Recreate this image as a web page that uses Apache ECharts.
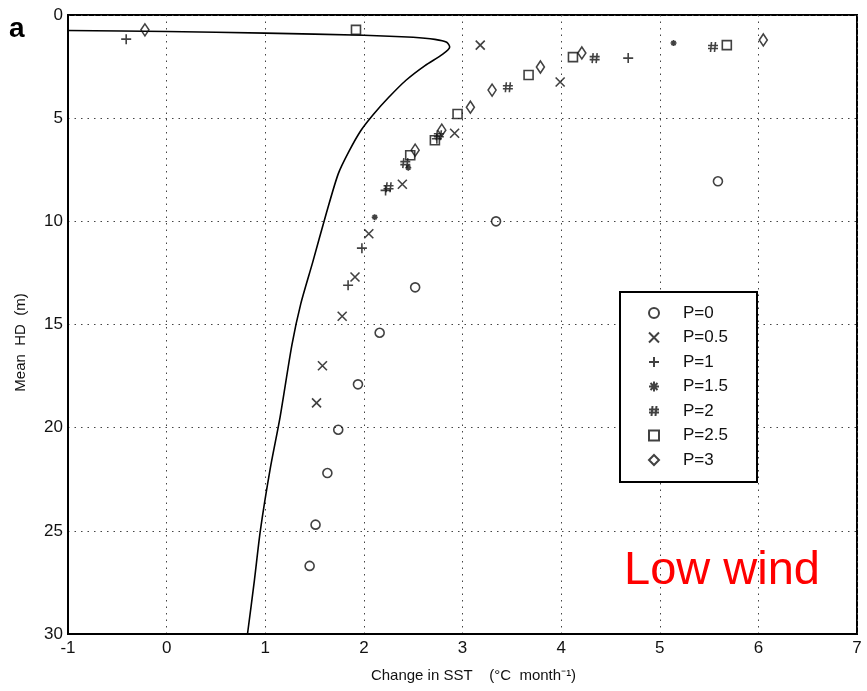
<!DOCTYPE html>
<html>
<head>
<meta charset="utf-8">
<script src="https://cdn.jsdelivr.net/npm/echarts@6/dist/echarts.min.js"></script>
<style>
html,body{margin:0;padding:0;background:#fff;}
#chart{width:867px;height:691px;}
</style>
</head>
<body>
<div id="chart"></div>
<script>
// Reference curve
const curveX = [-1, 0, 1, 2, 2.5, 2.72, 2.84, 2.87, 2.8, 2.62, 2.43, 2.25, 2.1, 1.97, 1.85, 1.74, 1.62, 1.48, 1.36, 1.27, 1.15, 1.05, 0.95, 0.89, 0.82];
const curveY = [0.75, 0.8, 0.88, 0.98, 1.08, 1.18, 1.32, 1.55, 1.9, 2.45, 3.15, 4.0, 4.8, 5.6, 6.6, 7.7, 9.6, 12, 14, 16, 19.5, 22, 25, 27.4, 30];

// Scatter series (x = change in SST, y = mean HD)
const p0X = [5.59, 3.34, 2.52, 2.16, 1.94, 1.74, 1.63, 1.51, 1.45];
const p0Y = [8.06, 10.0, 13.2, 15.4, 17.9, 20.1, 22.2, 24.7, 26.7];
const p05X = [3.18, 3.99, 2.92, 2.39, 2.05, 1.91, 1.78, 1.58, 1.52];
const p05Y = [1.46, 3.25, 5.73, 8.2, 10.6, 12.7, 14.6, 17.0, 18.8];
const p1X = [-0.41, 4.68, 2.74, 2.22, 1.98, 1.84];
const p1Y = [1.17, 2.09, 6.0, 8.5, 11.3, 13.1];
const p15X = [5.14, 2.45, 2.11];
const p15Y = [1.36, 7.4, 9.8];
const p2X = [5.54, 4.34, 3.46, 2.76, 2.42, 2.25];
const p2Y = [1.55, 2.09, 3.5, 5.83, 7.18, 8.35];
const p25X = [1.92, 5.68, 4.12, 3.67, 2.95, 2.72, 2.47];
const p25Y = [0.72, 1.46, 2.04, 2.91, 4.8, 6.07, 6.8];
const p3X = [-0.22, 6.05, 4.21, 3.79, 3.30, 3.08, 2.79, 2.52];
const p3Y = [0.72, 1.21, 1.84, 2.52, 3.64, 4.47, 5.58, 6.55];

const seriesNames = ['P=0', 'P=0.5', 'P=1', 'P=1.5', 'P=2', 'P=2.5', 'P=3'];
const xTicks = [-1, 0, 1, 2, 3, 4, 5, 6, 7];
const yTicks = [0, 5, 10, 15, 20, 25, 30];

function zip(xs, ys) { return xs.map((x, i) => [x, ys[i]]); }

const FONT = 'Liberation Sans, Arial, sans-serif';
const INK = '#111';

const symbols = [
  {sym: 'circle', size: 9},
  {sym: 'path://M0,0L10,10M10,0L0,10', size: 9},
  {sym: 'path://M5,0L5,10M0,5L10,5', size: 10},
  {sym: 'path://M5,0L5,10M0,5L10,5M1.5,1.5L8.5,8.5M8.5,1.5L1.5,8.5', size: 6},
  {sym: 'path://M3.5,0L2.5,10M7.5,0L6.5,10M0,3.5L10,3.5M0,6.5L10,6.5', size: 10},
  {sym: 'rect', size: 9},
  {sym: 'diamond', size: [8, 12]}
];
const dataSets = [zip(p0X, p0Y), zip(p05X, p05Y), zip(p1X, p1Y), zip(p15X, p15Y), zip(p2X, p2Y), zip(p25X, p25Y), zip(p3X, p3Y)];

const scatterSeries = seriesNames.map((name, i) => ({
  name: name,
  type: 'scatter',
  data: dataSets[i],
  symbol: symbols[i].sym,
  symbolSize: symbols[i].size,
  itemStyle: {color: 'rgba(255,255,255,0)', borderColor: INK, borderWidth: 1.6},
  z: 5
}));

const chart = echarts.init(document.getElementById('chart'), null, {renderer: 'canvas'});
chart.setOption({
  animation: false,
  backgroundColor: '#fff',
  grid: {left: 68, right: 10, top: 15, bottom: 57, show: true, borderColor: '#000', borderWidth: 2, backgroundColor: 'transparent'},
  xAxis: {
    type: 'value', min: xTicks[0], max: xTicks[xTicks.length - 1], interval: 1,
    axisLine: {show: true, onZero: false, lineStyle: {color: '#000', width: 2}},
    axisTick: {show: false},
    splitLine: {show: true, lineStyle: {color: '#444', width: 1, type: [1.5, 5]}},
    axisLabel: {fontFamily: FONT, fontSize: 17, color: INK, margin: 6},
    name: 'Change in SST    (\u00B0C  month\u207B\u00B9)',
    nameLocation: 'middle', nameGap: 34,
    nameTextStyle: {fontFamily: FONT, fontSize: 15, color: INK, padding: [0, 0, 0, 22]}
  },
  yAxis: {
    type: 'value', inverse: true, min: yTicks[0], max: yTicks[yTicks.length - 1], interval: 5,
    axisLine: {show: true, onZero: false, lineStyle: {color: '#000', width: 2}},
    axisTick: {show: false},
    splitLine: {show: true, lineStyle: {color: '#444', width: 1, type: [1.5, 5]}},
    axisLabel: {fontFamily: FONT, fontSize: 17, color: INK, margin: 5},
    name: 'Mean  HD  (m)',
    nameLocation: 'middle', nameGap: 40, nameRotate: 90,
    nameTextStyle: {fontFamily: FONT, fontSize: 15, color: INK, padding: [0, 0, 0, -36]}
  },
  legend: {
    data: seriesNames,
    orient: 'vertical',
    left: 648, top: 304,
    itemWidth: 10, itemHeight: 10, itemGap: 6.5,
    padding: 0,
    textStyle: {fontFamily: FONT, fontSize: 17, color: INK, lineHeight: 18, padding: [0, 0, 0, 19]},
    z: 6
  },
  graphic: [
    {type: 'rect', shape: {x: 620, y: 292, width: 137, height: 190}, style: {fill: '#fff', stroke: '#000', lineWidth: 2}, z: 4},
    {type: 'text', left: 9, top: 15, style: {text: 'a', font: 'bold 28px ' + FONT, fill: '#000'}},
    {type: 'text', x: 624, y: 571, style: {text: 'Low wind', font: '47px ' + FONT, fill: '#ff0000', verticalAlign: 'middle'}}
  ],
  series: [
    {
      name: 'curve', type: 'line', data: zip(curveX, curveY), smooth: 0.25,
      showSymbol: false, symbol: 'none',
      lineStyle: {color: '#000', width: 1.6}, z: 3
    }
  ].concat(scatterSeries)
});
</script>
</body>
</html>
